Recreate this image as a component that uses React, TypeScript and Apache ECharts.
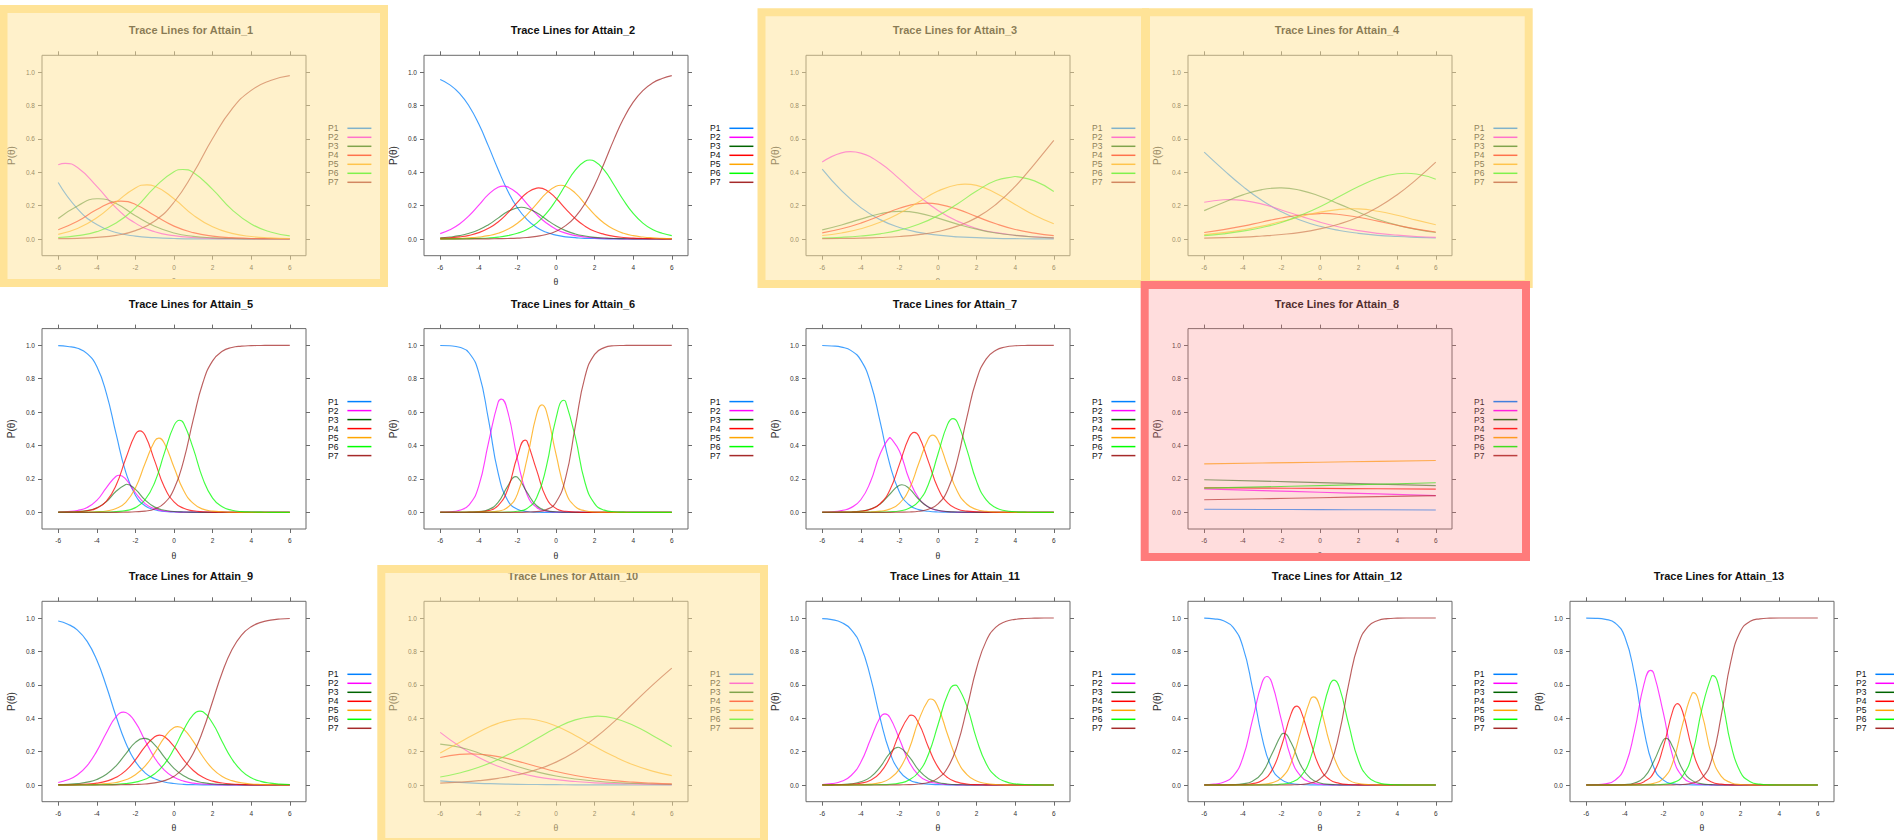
import React, { useEffect, useRef } from "react";
import * as echarts from "echarts";

// ---------------- data ----------------
const THETA_COARSE = [-6, -5, -4, -3, -2, -1, 0, 1, 2, 3, 4, 5, 6];
const THETA_FINE = [-6, -5.5, -5, -4.5, -4, -3.5, -3, -2.5, -2, -1.5, -1, -0.5, 0, 0.5, 1, 1.5, 2, 2.5, 3, 3.5, 4, 4.5, 5, 5.5, 6];
const THETA_FLAT = [-6, -3, 0, 3, 6];
const CATEGORIES = ["P1", "P2", "P3", "P4", "P5", "P6", "P7"];
const X_TICKS = [-6, -4, -2, 0, 2, 4, 6];
const Y_TICKS = [0, 0.2, 0.4, 0.6, 0.8, 1];
const LINE_COLORS = ["#0080ff", "#ff00ff", "#006400", "#ff0000", "#ffa500", "#00ff00", "#a52a2a"];

const ATTAIN_1 = [
  [.338, .181, .087, .039, .017, .008, .003, .001, .001, 0, 0, 0, 0],
  [.445, .428, .315, .186, .095, .043, .020, .009, .004, .002, .001, 0, 0],
  [.123, .198, .241, .212, .139, .076, .036, .016, .007, .003, .001, .001, 0],
  [.055, .106, .176, .225, .207, .140, .077, .038, .017, .008, .003, .002, .001],
  [.028, .063, .127, .220, .306, .316, .241, .143, .073, .034, .015, .007, .003],
  [.009, .020, .044, .096, .186, .309, .403, .398, .297, .176, .090, .042, .019],
  [.002, .004, .010, .022, .050, .108, .220, .395, .602, .778, .890, .949, .978],
];
const ATTAIN_2 = [
  [.955, .923, .872, .795, .688, .556, .416, .288, .187, .116, .069, .040, .023, .013, .008, .004, .003, .001, .001, 0, 0, 0, 0, 0, 0],
  [.032, .055, .090, .140, .203, .267, .310, .312, .274, .211, .147, .096, .059, .035, .020, .012, .007, .004, .002, .001, .001, 0, 0, 0, 0],
  [.007, .012, .020, .034, .055, .086, .125, .164, .187, .184, .157, .117, .079, .050, .030, .018, .010, .006, .003, .002, .001, .001, 0, 0, 0],
  [.004, .007, .013, .022, .038, .064, .102, .156, .219, .277, .305, .292, .244, .181, .122, .077, .046, .028, .016, .009, .005, .003, .002, .001, .001],
  [.001, .002, .004, .007, .012, .020, .034, .058, .094, .146, .211, .275, .316, .316, .275, .211, .146, .094, .058, .034, .020, .012, .007, .004, .002],
  [0, .001, .001, .002, .004, .006, .011, .020, .034, .057, .095, .153, .232, .325, .412, .466, .466, .412, .325, .232, .153, .095, .057, .034, .020],
  [0, 0, 0, 0, .001, .001, .002, .003, .005, .009, .016, .027, .047, .080, .133, .212, .322, .455, .595, .721, .820, .889, .934, .961, .978],
];
const ATTAIN_3 = [
  [.419, .290, .188, .116, .069, .040, .023, .013, .008, .004, .002, .001, .001],
  [.461, .516, .514, .455, .360, .258, .171, .107, .063, .038, .022, .013, .007],
  [.055, .084, .119, .151, .165, .155, .125, .089, .059, .036, .022, .012, .007],
  [.037, .061, .095, .139, .184, .212, .209, .179, .134, .091, .057, .035, .020],
  [.021, .036, .061, .100, .154, .221, .287, .325, .321, .274, .207, .142, .091],
  [.006, .010, .018, .031, .053, .088, .140, .210, .287, .350, .375, .348, .284],
  [.002, .003, .005, .009, .015, .026, .045, .077, .128, .207, .315, .449, .590],
];
const ATTAIN_4 = [
  [.520, .414, .315, .230, .163, .112, .076, .051, .034, .022, .015, .010, .006],
  [.220, .235, .231, .209, .174, .137, .101, .072, .050, .034, .023, .015, .010],
  [.170, .219, .264, .296, .306, .291, .256, .209, .160, .117, .083, .058, .039],
  [.039, .056, .077, .102, .126, .144, .152, .147, .130, .107, .082, .059, .042],
  [.026, .038, .055, .077, .105, .134, .161, .177, .180, .166, .142, .113, .085],
  [.020, .031, .047, .069, .099, .142, .193, .254, .314, .364, .391, .389, .358],
  [.005, .008, .011, .018, .027, .040, .061, .090, .132, .190, .265, .357, .460],
];
const ATTAIN_5 = [
  [.998, .993, .982, .950, .873, .711, .469, .241, .102, .039, .015, .005, .002, .001, 0, 0, 0, 0, 0, 0, 0, 0, 0, 0, 0],
  [.001, .004, .011, .029, .071, .148, .216, .198, .117, .052, .021, .008, .003, .001, .001, 0, 0, 0, 0, 0, 0, 0, 0, 0, 0],
  [.001, .001, .004, .010, .027, .064, .126, .167, .137, .074, .031, .012, .005, .002, .001, 0, 0, 0, 0, 0, 0, 0, 0, 0, 0],
  [0, .001, .003, .009, .025, .067, .162, .322, .467, .461, .308, .152, .063, .024, .009, .003, .001, .001, 0, 0, 0, 0, 0, 0, 0],
  [0, 0, 0, .001, .003, .008, .023, .060, .146, .292, .427, .414, .270, .130, .053, .019, .007, .003, .001, 0, 0, 0, 0, 0, 0],
  [0, 0, 0, 0, .001, .001, .004, .010, .028, .075, .179, .354, .519, .533, .381, .200, .085, .033, .012, .004, .002, .001, 0, 0, 0],
  [0, 0, 0, 0, 0, 0, 0, .001, .003, .007, .020, .055, .139, .310, .556, .777, .907, .964, .987, .995, .998, .999, 1, 1, 1],
];
const ATTAIN_6 = [
  [.999, .997, .988, .954, .835, .556, .236, .071, .018, .005, .001, 0, 0, 0, 0, 0, 0, 0, 0, 0, 0, 0, 0, 0, 0],
  [.001, .003, .012, .045, .158, .416, .658, .603, .320, .107, .029, .007, .002, .001, 0, 0, 0, 0, 0, 0, 0, 0, 0, 0, 0],
  [0, 0, 0, .001, .004, .016, .059, .157, .211, .119, .039, .010, .003, .001, 0, 0, 0, 0, 0, 0, 0, 0, 0, 0, 0],
  [0, 0, 0, .001, .003, .010, .040, .138, .336, .425, .251, .086, .023, .006, .002, 0, 0, 0, 0, 0, 0, 0, 0, 0, 0],
  [0, 0, 0, 0, .001, .002, .007, .030, .109, .320, .589, .606, .349, .123, .034, .009, .002, .001, 0, 0, 0, 0, 0, 0, 0],
  [0, 0, 0, 0, 0, 0, 0, .001, .006, .023, .088, .274, .563, .663, .451, .180, .052, .013, .003, .001, 0, 0, 0, 0, 0],
  [0, 0, 0, 0, 0, 0, 0, 0, 0, .001, .004, .016, .060, .207, .514, .811, .946, .986, .997, .999, 1, 1, 1, 1, 1],
];
const ATTAIN_7 = [
  [.999, .996, .989, .968, .911, .777, .543, .289, .122, .045, .016, .006, .002, .001, 0, 0, 0, 0, 0, 0, 0, 0, 0, 0, 0],
  [.001, .003, .010, .028, .075, .183, .349, .448, .367, .201, .084, .032, .011, .004, .001, 0, 0, 0, 0, 0, 0, 0, 0, 0, 0],
  [0, 0, .001, .002, .007, .019, .049, .108, .162, .143, .078, .032, .012, .004, .002, .001, 0, 0, 0, 0, 0, 0, 0, 0, 0],
  [0, 0, .001, .002, .006, .018, .051, .132, .287, .448, .458, .305, .144, .056, .020, .007, .003, .001, 0, 0, 0, 0, 0, 0, 0],
  [0, 0, 0, 0, .001, .002, .007, .019, .054, .137, .292, .441, .432, .274, .126, .048, .017, .006, .002, .001, 0, 0, 0, 0, 0],
  [0, 0, 0, 0, 0, 0, .001, .003, .008, .024, .066, .167, .349, .528, .540, .374, .185, .074, .027, .009, .003, .001, 0, 0, 0],
  [0, 0, 0, 0, 0, 0, 0, 0, .001, .002, .006, .018, .050, .133, .311, .570, .795, .919, .971, .990, .997, .999, 1, 1, 1],
];
const ATTAIN_8 = [
  [.018, .017, .016, .015, .014],
  [.140, .130, .120, .110, .100],
  [.195, .187, .178, .169, .160],
  [.147, .145, .143, .141, .139],
  [.290, .295, .300, .305, .310],
  [.145, .152, .160, .168, .177],
  [.075, .081, .087, .094, .100],
];
const ATTAIN_9 = [
  [.982, .963, .927, .860, .748, .590, .410, .252, .140, .073, .037, .018, .009, .004, .002, .001, .001, 0, 0, 0, 0, 0, 0, 0, 0],
  [.015, .031, .061, .116, .203, .313, .409, .434, .375, .266, .162, .089, .046, .023, .011, .006, .003, .001, .001, 0, 0, 0, 0, 0, 0],
  [.002, .004, .008, .017, .033, .064, .115, .187, .255, .279, .240, .167, .100, .055, .028, .014, .007, .003, .002, .001, 0, 0, 0, 0, 0],
  [.001, .001, .003, .006, .011, .023, .046, .086, .151, .230, .289, .290, .231, .151, .087, .046, .023, .012, .006, .003, .001, .001, 0, 0, 0],
  [0, 0, .001, .002, .004, .008, .015, .031, .061, .113, .192, .284, .345, .335, .261, .169, .097, .051, .026, .013, .006, .003, .002, .001, 0],
  [0, 0, 0, 0, .001, .002, .004, .008, .017, .034, .067, .125, .217, .330, .421, .438, .370, .259, .156, .085, .044, .022, .011, .005, .003],
  [0, 0, 0, 0, 0, 0, .001, .002, .003, .006, .013, .026, .052, .102, .190, .326, .500, .674, .810, .898, .948, .974, .987, .994, .997],
];
const ATTAIN_10 = [
  [.025, .016, .010, .007, .004, .003, .002, .001, .001, .001, 0, 0, 0],
  [.315, .232, .164, .112, .075, .049, .032, .021, .013, .009, .006, .004, .002],
  [.245, .226, .192, .151, .111, .079, .054, .036, .024, .015, .010, .006, .004],
  [.165, .183, .184, .170, .143, .111, .081, .057, .039, .026, .017, .011, .007],
  [.192, .254, .318, .369, .395, .389, .353, .296, .232, .172, .121, .083, .056],
  [.048, .072, .106, .153, .211, .277, .341, .390, .411, .400, .358, .297, .231],
  [.011, .017, .026, .040, .061, .092, .137, .199, .280, .378, .488, .598, .700],
];
const ATTAIN_11 = [
  [.996, .990, .973, .931, .832, .646, .401, .198, .083, .032, .012, .005, .002, .001, 0, 0, 0, 0, 0, 0, 0, 0, 0, 0, 0],
  [.003, .008, .022, .057, .136, .272, .404, .406, .276, .139, .058, .023, .009, .003, .001, 0, 0, 0, 0, 0, 0, 0, 0, 0, 0],
  [0, .001, .003, .007, .019, .047, .107, .189, .225, .170, .089, .038, .015, .006, .002, .001, 0, 0, 0, 0, 0, 0, 0, 0, 0],
  [0, .001, .002, .004, .011, .028, .072, .165, .309, .413, .370, .228, .107, .044, .017, .006, .002, .001, 0, 0, 0, 0, 0, 0, 0],
  [0, 0, 0, .001, .002, .005, .014, .038, .095, .214, .387, .509, .466, .301, .148, .062, .024, .009, .003, .001, 0, 0, 0, 0, 0],
  [0, 0, 0, 0, 0, .001, .002, .004, .011, .030, .078, .183, .361, .542, .593, .471, .275, .127, .052, .020, .007, .003, .001, 0, 0],
  [0, 0, 0, 0, 0, 0, 0, 0, .001, .002, .006, .015, .041, .103, .239, .460, .699, .863, .945, .979, .992, .997, .999, 1, 1],
];
const ATTAIN_12 = [
  [.999, .995, .983, .944, .829, .581, .284, .102, .032, .009, .003, .001, 0, 0, 0, 0, 0, 0, 0, 0, 0, 0, 0, 0, 0],
  [.001, .005, .016, .053, .162, .388, .614, .614, .388, .162, .053, .016, .005, .001, 0, 0, 0, 0, 0, 0, 0, 0, 0, 0, 0],
  [0, 0, .001, .002, .007, .023, .071, .184, .302, .254, .119, .041, .012, .004, .001, 0, 0, 0, 0, 0, 0, 0, 0, 0, 0],
  [0, 0, 0, .001, .002, .008, .027, .086, .232, .426, .447, .264, .102, .032, .010, .003, .001, 0, 0, 0, 0, 0, 0, 0, 0],
  [0, 0, 0, 0, 0, .001, .004, .013, .043, .132, .323, .511, .467, .252, .093, .029, .009, .003, .001, 0, 0, 0, 0, 0, 0],
  [0, 0, 0, 0, 0, 0, 0, .001, .005, .015, .052, .158, .378, .597, .586, .357, .145, .047, .014, .004, .001, 0, 0, 0, 0],
  [0, 0, 0, 0, 0, 0, 0, 0, 0, .001, .003, .011, .036, .114, .310, .611, .846, .950, .985, .996, .999, 1, 1, 1, 1],
];
const ATTAIN_13 = [
  [.999, .998, .992, .970, .888, .662, .326, .106, .029, .007, .002, .001, 0, 0, 0, 0, 0, 0, 0, 0, 0, 0, 0, 0, 0],
  [.001, .002, .007, .029, .108, .321, .607, .668, .430, .165, .047, .012, .003, .001, 0, 0, 0, 0, 0, 0, 0, 0, 0, 0, 0],
  [0, 0, 0, .001, .003, .012, .045, .141, .269, .224, .091, .026, .007, .002, 0, 0, 0, 0, 0, 0, 0, 0, 0, 0, 0],
  [0, 0, 0, 0, .001, .005, .020, .074, .230, .450, .437, .213, .067, .018, .005, .001, 0, 0, 0, 0, 0, 0, 0, 0, 0],
  [0, 0, 0, 0, 0, .001, .003, .010, .039, .139, .366, .551, .424, .178, .052, .014, .003, .001, 0, 0, 0, 0, 0, 0, 0],
  [0, 0, 0, 0, 0, 0, 0, .001, .004, .014, .055, .187, .458, .652, .526, .242, .075, .020, .005, .001, 0, 0, 0, 0, 0],
  [0, 0, 0, 0, 0, 0, 0, 0, 0, .001, .003, .011, .042, .150, .417, .743, .922, .980, .995, .999, 1, 1, 1, 1, 1],
];

// peak (θ, P) of each middle category (null = no interior peak)
const PEAKS_1 = [null, [-5.64, .453], [-3.89, .241], [-2.75, .227], [-1.4, .324], [.455, .416], null];
const PEAKS_2 = [null, [-2.72, .317], [-1.8, .19], [-.9, .306], [.25, .322], [1.75, .473], null];
const PEAKS_3 = [null, [-4.54, .523], [-1.92, .165], [-.57, .215], [1.4, .329], [3.98, .374], null];
const PEAKS_4 = [null, [-4.69, .236], [-2.1, .306], [.09, .153], [1.65, .181], [4.44, .394], null];
const PEAKS_5 = [null, [-2.84, .222], [-2.46, .168], [-1.77, .488], [-.79, .444], [.29, .551], null];
const PEAKS_6 = [null, [-2.83, .678], [-2.09, .214], [-1.6, .432], [-.73, .643], [.4, .671], null];
const PEAKS_7 = [null, [-2.47, .449], [-1.87, .165], [-1.23, .479], [-.28, .462], [.78, .561], null];
const PEAKS_8 = [null, null, null, null, null, null, null];
const PEAKS_9 = [null, [-2.61, .436], [-1.57, .279], [-.75, .299], [.19, .35], [1.35, .442], null];
const PEAKS_10 = [null, null, null, [-4.39, .186], [-1.68, .397], [2.16, .412], null];
const PEAKS_11 = [null, [-2.75, .426], [-2.06, .226], [-1.39, .418], [-.37, .515], [.89, .598], null];
const PEAKS_12 = [null, [-2.75, .65], [-1.88, .309], [-1.21, .472], [-.33, .528], [.73, .628], null];
const PEAKS_13 = [null, [-2.66, .686], [-1.86, .279], [-1.27, .487], [-.45, .553], [.56, .655], null];

const PANEL_NAMES = ["Attain_1", "Attain_2", "Attain_3", "Attain_4", "Attain_5", "Attain_6", "Attain_7",
  "Attain_8", "Attain_9", "Attain_10", "Attain_11", "Attain_12", "Attain_13"];
const PANEL_THETA = [THETA_COARSE, THETA_FINE, THETA_COARSE, THETA_COARSE, THETA_FINE, THETA_FINE, THETA_FINE,
  THETA_FLAT, THETA_FINE, THETA_COARSE, THETA_FINE, THETA_FINE, THETA_FINE];
const PANEL_PROBS = [ATTAIN_1, ATTAIN_2, ATTAIN_3, ATTAIN_4, ATTAIN_5, ATTAIN_6, ATTAIN_7,
  ATTAIN_8, ATTAIN_9, ATTAIN_10, ATTAIN_11, ATTAIN_12, ATTAIN_13];
const PANEL_PEAKS = [PEAKS_1, PEAKS_2, PEAKS_3, PEAKS_4, PEAKS_5, PEAKS_6, PEAKS_7,
  PEAKS_8, PEAKS_9, PEAKS_10, PEAKS_11, PEAKS_12, PEAKS_13];

// ---------------- layout ----------------
const FONT = '"Liberation Sans", Arial, Helvetica, sans-serif';
const AXIS_COLOR = "#6b6b6b";
const COL_STEP = 382;
const BOX_LEFT0 = 42;
const BOX_W = 264;
const BOX_H = 200.4;
const ROW_TOPS = [55.3, 328.6, 601.3];
const X_MIN = -6.84, X_MAX = 6.84, Y_MIN = -0.1, Y_MAX = 1.1;

function panelBox(i: number) {
  const row = i < 4 ? 0 : i < 8 ? 1 : 2;
  const col = i < 8 ? i % 4 : i - 8;
  return { row, col, left: BOX_LEFT0 + col * COL_STEP, top: ROW_TOPS[row] };
}

function seriesPoints(theta: number[], vals: number[], peak: number[] | null) {
  const pts: number[][] = theta.map((t, j) => [t, vals[j]]);
  if (peak) {
    const near = pts.findIndex((p) => Math.abs(p[0] - peak[0]) < 0.02);
    if (near >= 0) pts[near] = [peak[0], peak[1]];
    else pts.push([peak[0], peak[1]]);
    pts.sort((a, b) => a[0] - b[0]);
  }
  return pts;
}

const YELLOW_STROKE = "#FFE397";
const YELLOW_FILL = "rgba(255,227,151,0.5)";
const RED_STROKE = "#FF7B7B";
const RED_FILL = "rgba(255,123,123,0.26)";

function buildOption() {
  const grids: any[] = [];
  const xAxes: any[] = [];
  const yAxes: any[] = [];
  const series: any[] = [];
  const legends: any[] = [];
  const graphics: any[] = [];

  const tickStyle = { color: AXIS_COLOR, width: 1 };
  const labelStyle = { fontSize: 6.5, color: "#333", fontFamily: FONT };

  PANEL_NAMES.forEach((name, i) => {
    const b = panelBox(i);
    grids.push({
      left: b.left, top: b.top, width: BOX_W, height: BOX_H,
      show: true, borderColor: AXIS_COLOR, borderWidth: 1, backgroundColor: "transparent",
    });
    xAxes.push({
      type: "value", gridIndex: i, min: X_MIN, max: X_MAX, position: "bottom",
      axisLine: { show: false, onZero: false },
      axisTick: { show: true, inside: false, length: 4, customValues: X_TICKS, lineStyle: tickStyle },
      axisLabel: { show: true, customValues: X_TICKS, margin: 8, ...labelStyle },
      splitLine: { show: false },
      name: "θ", nameLocation: "middle", nameGap: 21,
      nameTextStyle: { fontSize: 10, color: "#333", fontFamily: '"Liberation Serif", "DejaVu Serif", serif' },
    });
    xAxes.push({
      type: "value", gridIndex: i, min: X_MIN, max: X_MAX, position: "top",
      axisLine: { show: false, onZero: false },
      axisTick: { show: true, inside: false, length: 4, customValues: X_TICKS, lineStyle: tickStyle },
      axisLabel: { show: false },
      splitLine: { show: false },
    });
    yAxes.push({
      type: "value", gridIndex: i, min: Y_MIN, max: Y_MAX, position: "left",
      axisLine: { show: false, onZero: false },
      axisTick: { show: true, inside: false, length: 4, customValues: Y_TICKS, lineStyle: tickStyle },
      axisLabel: { show: true, customValues: Y_TICKS, margin: 7, formatter: (v: number) => v.toFixed(1), ...labelStyle },
      splitLine: { show: false },
      name: "P(θ)", nameLocation: "middle", nameGap: 26,
      nameTextStyle: { fontSize: 10, color: "#333", fontFamily: FONT },
    });
    yAxes.push({
      type: "value", gridIndex: i, min: Y_MIN, max: Y_MAX, position: "right",
      axisLine: { show: false, onZero: false },
      axisTick: { show: true, inside: false, length: 4, customValues: Y_TICKS, lineStyle: tickStyle },
      axisLabel: { show: false },
      splitLine: { show: false },
    });

    const theta = PANEL_THETA[i];
    PANEL_PROBS[i].forEach((vals, k) => {
      series.push({
        type: "line", name: CATEGORIES[k], xAxisIndex: 2 * i, yAxisIndex: 2 * i,
        data: seriesPoints(theta, vals, PANEL_PEAKS[i][k] as any),
        showSymbol: false, symbol: "none", smooth: true, silent: true,
        lineStyle: { width: 1.15, color: LINE_COLORS[k], opacity: k === 2 ? 0.6 : 0.75 },
        itemStyle: { color: LINE_COLORS[k] },
        z: 2,
      });
    });

    legends.push({
      show: true, orient: "vertical", left: b.left + 286, top: b.top + 68.5,
      padding: 0, itemGap: 0, itemWidth: 24, itemHeight: 1.5, icon: "rect", align: "right",
      selectedMode: false, data: CATEGORIES,
      textStyle: { fontSize: 8.5, lineHeight: 9, color: "#111", fontFamily: FONT, padding: [0, 4, 0, 0] },
    });

    graphics.push({
      type: "text", x: b.col * COL_STEP + 191, y: b.top - 25, z: 10, silent: true,
      style: {
        text: "Trace Lines for " + name, fill: "#111", fontSize: 11, fontWeight: "bold",
        fontFamily: FONT, align: "center", verticalAlign: "middle",
      },
    });
  });

  const overlays = [
    { shape: { x: 3.5, y: 9, width: 380.5, height: 274 }, stroke: YELLOW_STROKE, fill: YELLOW_FILL },
    { shape: { x: 761.5, y: 12.3, width: 383.5, height: 271.7 }, stroke: YELLOW_STROKE, fill: YELLOW_FILL },
    { shape: { x: 1146, y: 12.3, width: 382.7, height: 271.7 }, stroke: YELLOW_STROKE, fill: YELLOW_FILL },
    { shape: { x: 381.3, y: 569, width: 382.7, height: 273 }, stroke: YELLOW_STROKE, fill: YELLOW_FILL },
    { shape: { x: 1144.7, y: 285, width: 381.3, height: 272 }, stroke: RED_STROKE, fill: RED_FILL },
  ];
  overlays.forEach((o, idx) => {
    graphics.push({
      type: "rect", z: 100 + idx, silent: true, shape: o.shape,
      style: { fill: o.fill, stroke: o.stroke, lineWidth: 8 },
    });
  });

  return {
    animation: false,
    backgroundColor: "#ffffff",
    grid: grids,
    xAxis: xAxes,
    yAxis: yAxes,
    legend: legends,
    series,
    graphic: { elements: graphics },
  };
}

export default function App() {
  const ref = useRef<HTMLDivElement>(null);
  useEffect(() => {
    if (!ref.current) return;
    const chart = echarts.init(ref.current, null, { renderer: "svg" });
    chart.setOption(buildOption() as any);
    return () => chart.dispose();
  }, []);
  return (
    <div
      ref={ref}
      style={{ position: "fixed", left: 0, top: 0, width: 1894, height: 840, background: "#fff" }}
    />
  );
}
